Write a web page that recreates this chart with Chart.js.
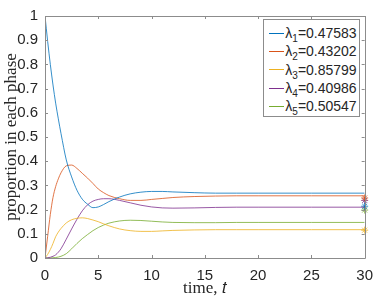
<!DOCTYPE html>
<html>
<head>
<meta charset="utf-8">
<script src="https://cdn.jsdelivr.net/npm/chart.js@4.4.0/dist/chart.umd.min.js"></script>
<style>
  html, body { margin: 0; padding: 0; background: #fff; }
  #wrap { position: relative; width: 382px; height: 300px; }
  #legend {
    position: absolute; background: #fff; border: 1px solid #8c8c8c;
    font: 14px "Liberation Sans", Arial, sans-serif; color: #262626;
    padding: 4px 2px 1px 5px;
  }
  .item { display: flex; align-items: center; height: 18.3px; white-space: nowrap; }
  .swatch { width: 22px; height: 0; border-top: 1px solid; margin-right: 1px; }
  .item sub { font-size: 10px; vertical-align: -4px; line-height: 0; }
</style>
</head>
<body>
<div id="wrap">
  <canvas id="chart" width="382" height="300"></canvas>
  <div id="legend"></div>
</div>
<script>
const timeValues = [0, 0.25, 0.5, 0.75, 1, 1.25, 1.5, 2, 2.5, 3, 3.5, 4, 4.5, 5, 5.5, 6, 7, 8, 9, 10, 11, 12, 14, 16, 18, 20, 25, 30];
const phase1 = [1, 0.895, 0.80, 0.715, 0.64, 0.575, 0.515, 0.405, 0.335, 0.28, 0.243, 0.222, 0.208, 0.211, 0.221, 0.233, 0.252, 0.265, 0.272, 0.275, 0.275, 0.273, 0.27, 0.268, 0.268, 0.268, 0.268, 0.268];
const phase2 = [0, 0.09, 0.18, 0.25, 0.295, 0.327, 0.352, 0.381, 0.384, 0.37, 0.35, 0.33, 0.308, 0.285, 0.27, 0.258, 0.245, 0.238, 0.238, 0.242, 0.246, 0.25, 0.254, 0.256, 0.257, 0.257, 0.257, 0.257];
const phase3 = [0, 0.015, 0.035, 0.06, 0.088, 0.107, 0.122, 0.145, 0.158, 0.164, 0.166, 0.163, 0.157, 0.15, 0.141, 0.133, 0.12, 0.113, 0.11, 0.11, 0.112, 0.114, 0.116, 0.117, 0.117, 0.117, 0.117, 0.117];
const phase4 = [0, 0.001, 0.003, 0.007, 0.013, 0.024, 0.038, 0.078, 0.12, 0.16, 0.195, 0.22, 0.235, 0.242, 0.245, 0.245, 0.238, 0.228, 0.218, 0.211, 0.207, 0.206, 0.207, 0.209, 0.21, 0.21, 0.21, 0.21];
const phase5 = [0, 0, 0, 0.001, 0.002, 0.004, 0.007, 0.018, 0.038, 0.06, 0.08, 0.097, 0.113, 0.126, 0.136, 0.144, 0.153, 0.156, 0.155, 0.152, 0.149, 0.147, 0.146, 0.146, 0.147, 0.147, 0.147, 0.147];

const lambdaValues = ["0.47583", "0.43202", "0.85799", "0.40986", "0.50547"];
// starred values at t = 30
const stationaryValues = [0.214, 0.248, 0.115, 0.238, 0.198];
const xTicks = [0, 5, 10, 15, 20, 25, 30];
const yTicks = [0, 0.1, 0.2, 0.3, 0.4, 0.5, 0.6, 0.7, 0.8, 0.9, 1];

const colors = ["#0072BD", "#D95319", "#EDB120", "#7E2F8E", "#77AC30"];
const phases = [phase1, phase2, phase3, phase4, phase5];

const lineSets = phases.map((vals, i) => ({
  type: "line",
  label: "λ" + (i + 1) + "=" + lambdaValues[i],
  data: timeValues.map((t, k) => ({ x: t, y: vals[k] })),
  borderColor: colors[i],
  borderWidth: 0.8,
  pointRadius: 0,
  cubicInterpolationMode: "monotone",
  fill: false
}));

const starSets = stationaryValues.map((v, i) => ({
  type: "scatter",
  label: "star" + (i + 1),
  data: [{ x: 30, y: v }],
  borderColor: colors[i],
  backgroundColor: colors[i],
  borderWidth: 0.8,
  pointStyle: "star",
  pointRadius: 3.5,
  clip: false
}));

// box around plot area, ticks pointing inward (matlab style)
const boxTicks = {
  id: "boxTicks",
  afterDatasetsDraw(chart) {
    const { ctx, chartArea: a, scales: { x, y } } = chart;
    ctx.save();
    ctx.strokeStyle = "#8c8c8c";
    ctx.lineWidth = 1;
    ctx.beginPath();
    ctx.rect(Math.round(a.left) + 0.5, Math.round(a.top) + 0.5, Math.round(a.right - a.left), Math.round(a.bottom - a.top));
    xTicks.forEach(v => {
      const px = Math.round(x.getPixelForValue(v)) + 0.5;
      ctx.moveTo(px, a.bottom); ctx.lineTo(px, a.bottom - 3);
      ctx.moveTo(px, a.top); ctx.lineTo(px, a.top + 3);
    });
    yTicks.forEach(v => {
      const py = Math.round(y.getPixelForValue(v)) + 0.5;
      ctx.moveTo(a.left, py); ctx.lineTo(a.left + 3, py);
      ctx.moveTo(a.right, py); ctx.lineTo(a.right - 3, py);
    });
    ctx.stroke();
    ctx.restore();
  }
};

const chart = new Chart(document.getElementById("chart"), {
  data: { datasets: [...lineSets, ...starSets] },
  options: {
    responsive: false,
    animation: false,
    layout: { padding: { top: 10, right: 9, left: 0, bottom: 0 } },
    plugins: { legend: { display: false }, tooltip: { enabled: false } },
    scales: {
      x: {
        type: "linear", min: 0, max: 30,
        afterFit: s => { s.height = 42; },
        ticks: { stepSize: 5, padding: 9, color: "#262626", font: { family: "Liberation Sans", size: 15 } },
        grid: { display: false, drawTicks: false },
        border: { display: false },
        title: {
          display: true, text: "time, 𝑡", color: "#262626",
          font: { family: "Liberation Serif", size: 17 },
          padding: { top: 0, bottom: 1 }
        }
      },
      y: {
        type: "linear", min: 0, max: 1,
        afterFit: s => { s.width = 45; },
        ticks: {
          stepSize: 0.1, padding: 7, color: "#262626",
          font: { family: "Liberation Sans", size: 15 },
          callback: v => String(+v.toFixed(1))
        },
        grid: { display: false, drawTicks: false },
        border: { display: false },
        title: {
          display: true, text: "proportion in each phase", color: "#262626",
          font: { family: "Liberation Serif", size: 17 },
          padding: { top: 1, bottom: 0 }
        }
      }
    }
  },
  plugins: [boxTicks]
});

// legend box drawn as html in the top right of the plot area
const legend = document.getElementById("legend");
lineSets.forEach((ds, i) => {
  const row = document.createElement("div");
  row.className = "item";
  row.innerHTML = `<span class="swatch" style="border-color:${colors[i]}"></span><span>λ<sub>${i + 1}</sub>=${lambdaValues[i]}</span>`;
  legend.appendChild(row);
});
const area = chart.chartArea;
legend.style.top = (area.top + 3) + "px";
legend.style.left = "263px";
legend.style.right = (382 - area.right + 5) + "px";
</script>
</body>
</html>
